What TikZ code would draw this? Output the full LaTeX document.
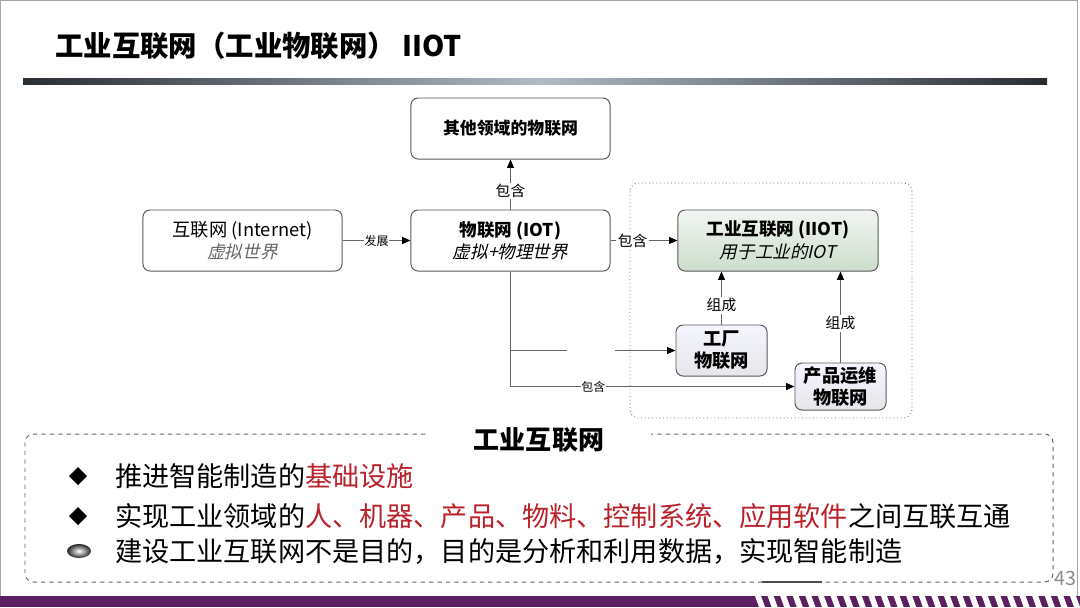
\documentclass[tikz,border=0pt]{standalone}
\usepackage{fontspec}
\setmainfont{Noto Sans CJK SC}
\newfontfamily\cjkit{Noto Sans CJK SC}[FakeSlant=0.22]
\usetikzlibrary{arrows.meta}
\newcommand\fsz[2]{\fontsize{#1}{#2}\selectfont}
\definecolor{redtxt}{RGB}{186,34,42}
\definecolor{purp}{RGB}{92,32,96}
\definecolor{barDark}{RGB}{40,45,50}
\definecolor{barLight}{RGB}{176,186,196}
\begin{document}
\begin{tikzpicture}[x=0.025cm,y=-0.025cm,
  box/.style={draw=black!65, line width=0.7pt, rounded corners=5pt, minimum width=4.975cm, minimum height=1.525cm, align=center, inner sep=2pt, fill=white, font=\fsz{12.5pt}{16pt}},
  smallbox/.style={draw=black!65, line width=0.7pt, rounded corners=5pt, minimum width=2.275cm, align=center, inner sep=1pt, top color=blue!4, bottom color=blue!20!black!10, font=\fsz{13pt}{15.5pt}\bfseries},
  arr/.style={draw=black!60, line width=0.7pt, -{Triangle[length=6pt,width=5pt,black]}},
  lab/.style={fill=white, inner sep=1pt, font=\fsz{10.5pt}{12pt}},
  slab/.style={fill=white, inner sep=0.5pt, font=\fsz{8.5pt}{10pt}},
  bul/.style={anchor=west, inner sep=0pt, font=\fsz{19.3pt}{22pt}}
]
\useasboundingbox (0,0) rectangle (1080,607);
\fill[white] (0,0) rectangle (1080,607);
\draw[black!35, line width=0.6pt] (0.5,0.5) rectangle (1077,596);

% title
\node[anchor=west, inner sep=0pt, font=\fsz{20.2pt}{24pt}\bfseries] (title) at (55,46) {工业互联网（工业物联网） IIOT};
\shade[left color=barDark, right color=barLight] (23,78) rectangle (540,84);
\shade[left color=barLight, right color=barDark] (540,78) rectangle (1047,84);

% dotted frame
\draw[black!60, dotted, line width=0.6pt, rounded corners=6pt] (630,183) rectangle (912,418);

% boxes
\node[box] (other) at (510.5,128.5) {\bfseries\fsz{12pt}{14pt}其他领域的物联网};
\node[box] (inet) at (242.5,240.5) {\fsz{13pt}{16pt}互联网 (Internet)\\\textcolor{black!60}{\cjkit 虚拟世界}};
\node[box] (iot) at (510.5,240.5) {\bfseries 物联网 (IOT)\\{\cjkit 虚拟+物理世界}};
\node[box, minimum width=5cm, top color=green!25!black!5!white, bottom color=green!35!black!20!white, fill=none] (iiot) at (778,240.5) {\bfseries 工业互联网 (IIOT)\\{\cjkit 用于工业的IOT}};
\node[smallbox, minimum height=1.275cm] (fact) at (721.5,350.5) {工厂\\物联网};
\node[smallbox, minimum height=1.175cm] (prod) at (840.5,386.5) {产品运维\\物联网};

% connectors
\draw[arr] (iot.north) -- node[lab, pos=0.37]{包含} (other.south);
\draw[arr] (inet.east) -- node[slab]{发展} (iot.west);
\draw[arr] (iot.east) -- node[lab, pos=0.33]{包含} (iiot.west);
\draw[arr] (fact.north) -- node[lab, pos=0.36]{组成} (fact.north |- iiot.south);
\draw[arr] (prod.north) -- node[lab, pos=0.43]{组成} (prod.north |- iiot.south);
\draw[arr] (iot.south) |- node[slab, pos=0.646]{包含} (prod.west);
\coordinate (br) at (iot.south |- fact.west);
\draw[arr] (br) -- node[fill=white, inner sep=0pt, minimum width=1.2cm, minimum height=4pt, pos=0.49]{} (fact.west);

% bottom box
\draw[black!60, dashed, line width=0.7pt, rounded corners=6pt] (25,434) rectangle (1053,582);
\draw[black!70, line width=1pt] (762,582) -- (822,582);
\node[fill=white, minimum width=5.6cm, inner sep=1pt, font=\fsz{18.5pt}{22pt}\bfseries] (btitle) at (539,440) {工业互联网};

\fill (78,467) -- (87,476) -- (78,485) -- (69,476) -- cycle;
\node[bul] (b1) at (115,476) {推进智能制造的\textcolor{redtxt}{基础设施}};
\fill (78,507) -- (87,516) -- (78,525) -- (69,516) -- cycle;
\node[bul] (b2) at (115,516) {实现工业领域的\textcolor{redtxt}{人、机器、产品、物料、控制系统、应用软件}之间互联互通};
\shade[inner color=white, outer color=black!85] (79,551) ellipse (12 and 7);
\node[bul] (b3) at (115,551) {建设工业互联网不是目的，目的是分析和利用数据，实现智能制造};

\node[text=black!45, inner sep=0pt, font=\fsz{14pt}{16pt}] (pg) at (1065,578) {43};

% bottom bar
\fill[purp] (0,596) rectangle (1080,607);
\foreach \i in {0,...,26} {
  \fill[white] ({755+\i*12.6},596) -- ({761+\i*12.6},596) -- ({765+\i*12.6},607) -- ({759+\i*12.6},607) -- cycle;
}
\end{tikzpicture}
\end{document}
